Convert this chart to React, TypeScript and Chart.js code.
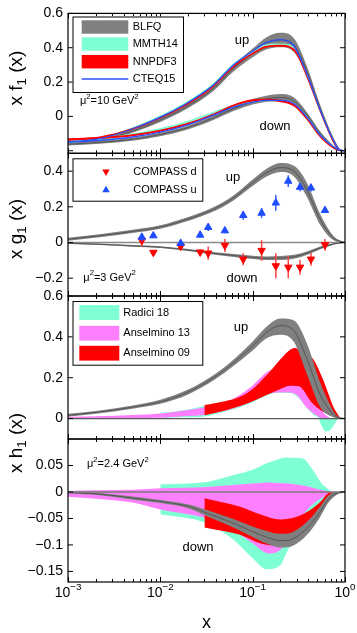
import { useEffect, useRef } from 'react';
import { Chart, registerables } from 'chart.js';

Chart.register(...registerables);

const FONT = '"Liberation Sans", Arial, Helvetica, sans-serif';
const CW = 357;
const CH = 633;
const PLOT_LEFT = 68;
const PLOT_RIGHT = 345;

const GRAY = '#808080';
const GRAY_MID = '#4a4a4a';
const CYAN = '#7fffd4';
const MAGENTA = '#ff80ff';
const RED = '#ff0000';
const BLUE = '#2b4cff';
const MARK_BLUE = '#1f4dff';
const ERR_RED = '#ff4040';
const ERR_BLUE = '#3a5bff';

// ---------------- x axis ----------------
const X_MIN = 0.001;
const X_MAX = 1;
const X_TICKS = [0.001, 0.01, 0.1, 1];
const X_TICK_EXP = ['\u22123', '\u22122', '\u22121', '0'];

// ---------------- panel 1 : x f1(x), mu^2 = 10 GeV^2 ----------------
const Y1_TICKS = [-0.2, 0, 0.2, 0.4, 0.6];
const Y1_LABELS = ['', '0', '0.2', '0.4', '0.6'];
const F1_X = [0.001, 0.0022, 0.005, 0.01, 0.019, 0.037, 0.062, 0.1, 0.14, 0.2, 0.28, 0.385, 0.54, 0.75, 0.88, 1];
const F1_UP_CTEQ = [-0.15, -0.13, -0.072, -0.004, 0.074, 0.18, 0.3, 0.38, 0.43, 0.447, 0.41, 0.25, 0.035, -0.14, -0.198, -0.2];
const F1_UP_BLFQ_MID = [-0.16, -0.14, -0.085, -0.02, 0.055, 0.16, 0.28, 0.37, 0.425, 0.445, 0.415, 0.265, 0.045, -0.135, -0.193, -0.2];
const F1_UP_BLFQ_LO = [-0.168, -0.148, -0.095, -0.032, 0.042, 0.145, 0.262, 0.345, 0.39, 0.403, 0.375, 0.235, 0.025, -0.145, -0.197, -0.2];
const F1_UP_BLFQ_HI = [-0.152, -0.132, -0.075, -0.008, 0.068, 0.175, 0.298, 0.395, 0.46, 0.487, 0.455, 0.295, 0.065, -0.125, -0.189, -0.2];
const F1_UP_MMTH_LO = [-0.157, -0.135, -0.075, -0.006, 0.072, 0.178, 0.295, 0.365, 0.405, 0.41, 0.39, 0.235, 0.025, -0.148, -0.2, -0.2];
const F1_UP_MMTH_HI = [-0.145, -0.123, -0.063, 0.006, 0.085, 0.192, 0.31, 0.38, 0.42, 0.425, 0.405, 0.25, 0.04, -0.136, -0.194, -0.2];
const F1_UP_NNPDF_LO = [-0.142, -0.128, -0.078, -0.012, 0.064, 0.168, 0.285, 0.36, 0.4, 0.405, 0.38, 0.225, 0.02, -0.155, -0.203, -0.2];
const F1_UP_NNPDF_HI = [-0.13, -0.117, -0.068, -0.002, 0.074, 0.178, 0.296, 0.372, 0.412, 0.418, 0.395, 0.24, 0.033, -0.143, -0.196, -0.2];
const F1_DN_CTEQ = [-0.15, -0.14, -0.12, -0.091, -0.052, 0.006, 0.054, 0.083, 0.093, 0.093, 0.074, -0.004, -0.11, -0.178, -0.197, -0.2];
const F1_DN_BLFQ_MID = [-0.162, -0.152, -0.133, -0.105, -0.068, -0.01, 0.045, 0.085, 0.102, 0.11, 0.09, 0.01, -0.1, -0.175, -0.196, -0.2];
const F1_DN_BLFQ_LO = [-0.17, -0.16, -0.142, -0.115, -0.079, -0.022, 0.031, 0.069, 0.084, 0.09, 0.07, -0.006, -0.112, -0.181, -0.199, -0.2];
const F1_DN_BLFQ_HI = [-0.154, -0.144, -0.124, -0.095, -0.057, 0.002, 0.059, 0.101, 0.12, 0.13, 0.11, 0.026, -0.088, -0.169, -0.193, -0.2];
const F1_DN_MMTH_LO = [-0.152, -0.138, -0.113, -0.082, -0.042, 0.012, 0.056, 0.08, 0.088, 0.086, 0.066, -0.01, -0.114, -0.181, -0.199, -0.2];
const F1_DN_MMTH_HI = [-0.142, -0.126, -0.1, -0.068, -0.028, 0.026, 0.068, 0.09, 0.098, 0.096, 0.078, 0.002, -0.104, -0.173, -0.195, -0.2];
const F1_DN_NNPDF_LO = [-0.14, -0.132, -0.116, -0.09, -0.052, 0.004, 0.058, 0.087, 0.09, 0.083, 0.058, -0.02, -0.125, -0.188, -0.202, -0.2];
const F1_DN_NNPDF_HI = [-0.128, -0.12, -0.104, -0.078, -0.04, 0.016, 0.07, 0.1, 0.103, 0.097, 0.072, -0.006, -0.113, -0.18, -0.197, -0.2];

// ---------------- panel 2 : x g1(x), mu^2 = 3 GeV^2 ----------------
const Y2_TICKS = [-0.2, 0, 0.2, 0.4];
const Y2_LABELS = ['\u22120.2', '0', '0.2', '0.4'];
const G1_X = [0.001, 0.0022, 0.005, 0.01, 0.019, 0.037, 0.062, 0.1, 0.14, 0.2, 0.28, 0.385, 0.54, 0.75, 1];
const G1_UP_MID = [0.018, 0.038, 0.062, 0.087, 0.128, 0.184, 0.25, 0.335, 0.39, 0.42, 0.4, 0.297, 0.128, 0.025, 0];
const G1_UP_LO = [0.01, 0.03, 0.053, 0.077, 0.117, 0.172, 0.236, 0.317, 0.368, 0.395, 0.37, 0.257, 0.098, 0.013, 0];
const G1_UP_HI = [0.026, 0.046, 0.071, 0.097, 0.139, 0.196, 0.264, 0.353, 0.412, 0.445, 0.43, 0.337, 0.158, 0.037, 0];
const G1_DN_MID = [-0.004, -0.01, -0.019, -0.026, -0.041, -0.06, -0.073, -0.083, -0.088, -0.087, -0.08, -0.06, -0.03, -0.008, 0];
const G1_DN_LO = [-0.008, -0.014, -0.024, -0.031, -0.047, -0.067, -0.081, -0.092, -0.098, -0.098, -0.091, -0.07, -0.038, -0.012, 0];
const G1_DN_HI = [0.0, -0.006, -0.014, -0.021, -0.035, -0.053, -0.065, -0.074, -0.078, -0.076, -0.069, -0.05, -0.022, -0.004, 0];
const COMPASS_X = [0.0063, 0.0084, 0.0166, 0.027, 0.033, 0.05, 0.079, 0.125, 0.178, 0.243, 0.326, 0.428, 0.607];
const COMPASS_U = [0.03, 0.038, -0.004, 0.042, 0.085, 0.066, 0.152, 0.165, 0.222, 0.344, 0.31, 0.306, 0.18];
const COMPASS_U_ERR = [0.022, 0.012, 0.012, 0.014, 0.02, 0.014, 0.024, 0.028, 0.044, 0.033, 0.023, 0.02, 0.014];
const COMPASS_D = [0.011, -0.056, -0.022, -0.054, -0.06, -0.017, -0.094, -0.045, -0.131, -0.139, -0.139, -0.094, -0.013];
const COMPASS_D_ERR = [0.034, 0.012, 0.012, 0.014, 0.037, 0.037, 0.033, 0.057, 0.07, 0.061, 0.042, 0.037, 0.033];

// ---------------- panel 3 : x h1(x) up ----------------
const Y3_TICKS = [0, 0.2, 0.4, 0.6];
const Y3_LABELS = ['0', '0.2', '0.4', '0.6'];
const H1U_X = [0.001, 0.002, 0.005, 0.01, 0.02, 0.04, 0.06, 0.1, 0.14, 0.2, 0.28, 0.385, 0.54, 0.7, 0.8, 1];
const H1_UP_MID = [0.016, 0.03, 0.056, 0.082, 0.13, 0.208, 0.268, 0.355, 0.42, 0.455, 0.43, 0.295, 0.115, 0.035, 0.01, 0];
const H1_UP_LO = [0.009, 0.023, 0.048, 0.072, 0.118, 0.195, 0.253, 0.333, 0.392, 0.41, 0.375, 0.22, 0.056, 0.012, 0.003, 0];
const H1_UP_HI = [0.023, 0.037, 0.064, 0.092, 0.142, 0.221, 0.283, 0.377, 0.448, 0.49, 0.48, 0.37, 0.175, 0.06, 0.018, 0];
const R18U_X = [0.01, 0.02, 0.03, 0.05, 0.073, 0.1, 0.15, 0.2, 0.25, 0.3, 0.38, 0.45, 0.52, 0.55, 0.62, 0.68, 0.75, 0.85, 1];
const R18_UP_HI = [0.028, 0.045, 0.062, 0.075, 0.09, 0.11, 0.135, 0.138, 0.135, 0.125, 0.08, 0.04, 0.015, 0.008, 0.003, 0.002, 0.001, 0, 0];
const R18_UP_LO = [0.003, 0.006, 0.01, 0.035, 0.056, 0.08, 0.118, 0.126, 0.125, 0.11, 0.055, 0.02, 0.0, -0.03, -0.063, -0.06, -0.035, -0.002, 0];
const A13U_X = [0.001, 0.002, 0.005, 0.01, 0.02, 0.03, 0.05, 0.07, 0.1, 0.14, 0.175, 0.2, 0.23, 0.3, 0.38, 0.49, 0.58, 0.7];
const A13_UP_HI = [0.008, 0.011, 0.017, 0.025, 0.042, 0.056, 0.078, 0.112, 0.162, 0.225, 0.248, 0.255, 0.255, 0.22, 0.16, 0.08, 0.03, 0.0];
const A13_UP_LO = [0.0, 0.001, 0.002, 0.004, 0.012, 0.018, 0.038, 0.058, 0.085, 0.118, 0.126, 0.128, 0.128, 0.115, 0.057, 0.016, 0.0, 0.0];
const A09U_X = [0.03, 0.05, 0.073, 0.1, 0.13, 0.154, 0.2, 0.254, 0.29, 0.325, 0.353, 0.417, 0.454, 0.58, 0.75, 0.81, 0.9];
const A09_UP_HI = [0.066, 0.085, 0.107, 0.145, 0.195, 0.23, 0.29, 0.337, 0.345, 0.335, 0.325, 0.305, 0.29, 0.19, 0.057, 0.03, 0.0];
const A09_UP_LO = [0.016, 0.04, 0.061, 0.085, 0.108, 0.123, 0.145, 0.161, 0.16, 0.156, 0.14, 0.09, 0.07, 0.033, 0.008, 0.005, 0.0];

// ---------------- panel 4 : x h1(x) down, mu^2 = 2.4 GeV^2 ----------------
const Y4_TICKS = [-0.15, -0.1, -0.05, 0, 0.05];
const Y4_LABELS = ['\u22120.15', '\u22120.1', '\u22120.05', '0', '0.05'];
const H1D_X = [0.001, 0.0022, 0.0053, 0.01, 0.021, 0.032, 0.062, 0.1, 0.142, 0.197, 0.25, 0.32, 0.42, 0.54, 0.65, 0.8, 1];
const H1_DN_MID = [-0.001, -0.004, -0.012, -0.018, -0.028, -0.04, -0.059, -0.075, -0.0855, -0.092, -0.091, -0.081, -0.062, -0.037, -0.015, -0.003, 0];
const H1_DN_LO = [-0.003, -0.006, -0.015, -0.021, -0.032, -0.046, -0.067, -0.085, -0.0975, -0.105, -0.104, -0.094, -0.074, -0.047, -0.022, -0.006, 0];
const H1_DN_HI = [0.001, -0.002, -0.009, -0.015, -0.024, -0.034, -0.051, -0.065, -0.0735, -0.079, -0.078, -0.068, -0.05, -0.027, -0.008, 0.0, 0];
const R18D_X = [0.01, 0.032, 0.062, 0.1, 0.142, 0.2, 0.23, 0.3, 0.35, 0.45, 0.56, 0.63, 0.72, 0.84];
const R18_DN_HI = [0.0145, 0.019, 0.032, 0.042, 0.054, 0.063, 0.065, 0.064, 0.063, 0.041, 0.016, 0.008, 0.001, 0];
const R18_DN_LO = [-0.042, -0.059, -0.09, -0.125, -0.146, -0.138, -0.116, -0.084, -0.066, -0.04, -0.02, -0.013, -0.005, 0];
const A13D_X = [0.001, 0.002, 0.005, 0.01, 0.032, 0.062, 0.1, 0.148, 0.197, 0.25, 0.32, 0.42, 0.54, 0.7, 0.85];
const A13_DN_HI = [0.002, 0.003, 0.004, 0.007, 0.0095, 0.013, 0.016, 0.018, 0.017, 0.016, 0.013, 0.0095, 0.004, 0.001, 0];
const A13_DN_LO = [-0.009, -0.013, -0.02, -0.033, -0.05, -0.072, -0.097, -0.116, -0.11, -0.084, -0.053, -0.028, -0.013, -0.003, 0];
const A09D_X = [0.03, 0.073, 0.12, 0.2, 0.3, 0.42, 0.54, 0.65, 0.76];
const A09_DN_HI = [-0.012, -0.028, -0.042, -0.052, -0.047, -0.034, -0.019, -0.003, 0];
const A09_DN_LO = [-0.067, -0.081, -0.097, -0.102, -0.088, -0.064, -0.037, -0.015, 0];

// ---------------- helpers ----------------
type Seg = { t: string; s?: 'sup' | 'sub' };

const pts = (xs: number[], ys: number[]) => xs.map((x, i) => ({ x, y: ys[i] }));

function band(xs: number[], lo: number[], hi: number[], color: string, label: string): any[] {
  const common = { pointRadius: 0, borderWidth: 0, borderColor: 'rgba(0,0,0,0)', cubicInterpolationMode: 'monotone' };
  return [
    { ...common, label: label + ' lower', data: pts(xs, lo), fill: false },
    { ...common, label, data: pts(xs, hi), fill: '-1', backgroundColor: color },
  ];
}

function curve(xs: number[], ys: number[], color: string, width: number, label: string): any {
  return {
    label, data: pts(xs, ys), borderColor: color, borderWidth: width, pointRadius: 0,
    fill: false, cubicInterpolationMode: 'monotone',
  };
}

function markers(xs: number[], ys: number[], errs: number[], color: string, errColor: string, rot: number, label: string): any {
  return {
    label, data: pts(xs, ys), showLine: false, pointStyle: 'triangle', rotation: rot,
    pointRadius: 4.3, pointBackgroundColor: color, pointBorderColor: color, pointBorderWidth: 1,
    errors: errs, errColor,
  };
}

function drawRich(ctx: CanvasRenderingContext2D, segs: Seg[], x: number, y: number, size: number, align: 'left' | 'center' = 'left') {
  let total = 0;
  for (const sg of segs) {
    ctx.font = `${sg.s ? size * 0.7 : size}px ${FONT}`;
    total += ctx.measureText(sg.t).width;
  }
  let cx = align === 'center' ? x - total / 2 : x;
  ctx.textAlign = 'left';
  ctx.textBaseline = 'middle';
  ctx.fillStyle = '#000';
  for (const sg of segs) {
    const fs = sg.s ? size * 0.7 : size;
    ctx.font = `${fs}px ${FONT}`;
    const dy = sg.s === 'sup' ? -size * 0.4 : sg.s === 'sub' ? size * 0.3 : 0;
    ctx.fillText(sg.t, cx, y + dy);
    cx += ctx.measureText(sg.t).width;
  }
}

function drawRotated(ctx: CanvasRenderingContext2D, segs: Seg[], x: number, y: number, size: number) {
  ctx.save();
  ctx.translate(x, y);
  ctx.rotate(-Math.PI / 2);
  drawRich(ctx, segs, 0, 0, size, 'center');
  ctx.restore();
}

function legendBox(ctx: CanvasRenderingContext2D, l: number, t: number, r: number, b: number) {
  ctx.fillStyle = '#fff';
  ctx.fillRect(l, t, r - l, b - t);
  ctx.strokeStyle = '#000';
  ctx.lineWidth = 1;
  ctx.strokeRect(l + 0.5, t + 0.5, r - l - 1, b - t - 1);
}

function legendText(ctx: CanvasRenderingContext2D, s: string, x: number, y: number) {
  ctx.font = `11px ${FONT}`;
  ctx.fillStyle = '#000';
  ctx.textAlign = 'left';
  ctx.textBaseline = 'middle';
  ctx.fillText(s, x, y);
}

function triangle(ctx: CanvasRenderingContext2D, x: number, y: number, r: number, down: boolean, color: string) {
  const d = down ? -1 : 1;
  ctx.beginPath();
  ctx.moveTo(x, y - d * r);
  ctx.lineTo(x + r * 0.866, y + d * r * 0.5);
  ctx.lineTo(x - r * 0.866, y + d * r * 0.5);
  ctx.closePath();
  ctx.fillStyle = color;
  ctx.fill();
}

function drawFrame(chart: any, yTicks: number[]) {
  const { ctx, chartArea: a, scales } = chart;
  const xs = scales.x;
  const ys = scales.y;
  ctx.save();
  ctx.strokeStyle = '#000';
  ctx.lineWidth = 1;
  ctx.beginPath();
  for (let d = -3; d <= 0; d++) {
    for (let k = 1; k <= 9; k++) {
      const v = k * Math.pow(10, d);
      if (v > X_MAX * 1.0001) break;
      const px = Math.round(xs.getPixelForValue(v)) + 0.5;
      const len = k === 1 ? 5 : 3;
      ctx.moveTo(px, a.top);
      ctx.lineTo(px, a.top + len);
      ctx.moveTo(px, a.bottom);
      ctx.lineTo(px, a.bottom - len);
    }
  }
  for (const t of yTicks) {
    const py = ys.getPixelForValue(t);
    ctx.moveTo(a.left, py);
    ctx.lineTo(a.left + 5, py);
    ctx.moveTo(a.right, py);
    ctx.lineTo(a.right - 5, py);
  }
  ctx.stroke();
  ctx.lineWidth = 1.2;
  ctx.strokeRect(a.left, a.top, a.right - a.left, a.bottom - a.top);
  ctx.restore();
}

function zeroLine(chart: any, color: string, width: number) {
  const { ctx, chartArea: a, scales } = chart;
  const py = scales.y.getPixelForValue(0);
  ctx.save();
  ctx.strokeStyle = color;
  ctx.lineWidth = width;
  ctx.beginPath();
  ctx.moveTo(a.left, py);
  ctx.lineTo(a.right, py);
  ctx.stroke();
  ctx.restore();
}

type PanelSpec = {
  top: number; bottom: number; yMin: number; yMax: number;
  yTicks: number[]; yLabels: string[];
  datasets: any[];
  zero?: { when: 'before' | 'after'; color: string; width: number };
  decorate: (chart: any) => void;
};

const MU = (v: string): Seg[] => [{ t: '\u03bc' }, { t: '2', s: 'sup' }, { t: '=' + v + ' GeV' }, { t: '2', s: 'sup' }];

const PANELS: PanelSpec[] = [
  {
    top: 12.3, bottom: 153.3, yMin: -0.215, yMax: 0.6, yTicks: Y1_TICKS, yLabels: Y1_LABELS,
    datasets: [
      ...band(F1_X, F1_UP_BLFQ_LO, F1_UP_BLFQ_HI, GRAY, 'BLFQ up'),
      curve(F1_X, F1_UP_BLFQ_MID, GRAY_MID, 0.8, 'BLFQ up mid'),
      ...band(F1_X, F1_DN_BLFQ_LO, F1_DN_BLFQ_HI, GRAY, 'BLFQ down'),
      curve(F1_X, F1_DN_BLFQ_MID, GRAY_MID, 0.8, 'BLFQ down mid'),
      ...band(F1_X, F1_UP_MMTH_LO, F1_UP_MMTH_HI, CYAN, 'MMTH14 up'),
      ...band(F1_X, F1_DN_MMTH_LO, F1_DN_MMTH_HI, CYAN, 'MMTH14 down'),
      ...band(F1_X, F1_UP_NNPDF_LO, F1_UP_NNPDF_HI, RED, 'NNPDF3 up'),
      ...band(F1_X, F1_DN_NNPDF_LO, F1_DN_NNPDF_HI, RED, 'NNPDF3 down'),
      curve(F1_X, F1_UP_CTEQ, BLUE, 1.3, 'CTEQ15 up'),
      curve(F1_X, F1_DN_CTEQ, BLUE, 1.3, 'CTEQ15 down'),
    ],
    decorate: (chart) => {
      const ctx = chart.ctx;
      legendBox(ctx, 72.5, 16.5, 184, 93);
      const rows = [27, 44, 61.7, 79];
      const cols = [GRAY, CYAN, RED];
      for (let i = 0; i < 3; i++) {
        ctx.fillStyle = cols[i];
        ctx.fillRect(81.7, rows[i] - 6.7, 46.6, 13.4);
      }
      ctx.strokeStyle = BLUE;
      ctx.lineWidth = 1.3;
      ctx.beginPath();
      ctx.moveTo(81.7, rows[3]);
      ctx.lineTo(128.3, rows[3]);
      ctx.stroke();
      ['BLFQ', 'MMTH14', 'NNPDF3', 'CTEQ15'].forEach((s, i) => legendText(ctx, s, 132.7, rows[i]));
      drawRich(ctx, MU('10'), 80, 101, 11);
      drawRich(ctx, [{ t: 'up' }], 242, 40, 13, 'center');
      drawRich(ctx, [{ t: 'down' }], 275, 126, 13, 'center');
      drawRotated(ctx, [{ t: 'x f' }, { t: '1', s: 'sub' }, { t: ' (x)' }], 17, 78, 19);
    },
  },
  {
    top: 153.3, bottom: 296, yMin: -0.3, yMax: 0.5, yTicks: Y2_TICKS, yLabels: Y2_LABELS,
    zero: { when: 'before', color: '#8a8a8a', width: 1.5 },
    datasets: [
      ...band(G1_X, G1_UP_LO, G1_UP_HI, GRAY, 'BLFQ g1 up'),
      curve(G1_X, G1_UP_MID, GRAY_MID, 0.8, 'BLFQ g1 up mid'),
      ...band(G1_X, G1_DN_LO, G1_DN_HI, GRAY, 'BLFQ g1 down'),
      curve(G1_X, G1_DN_MID, GRAY_MID, 0.8, 'BLFQ g1 down mid'),
      markers(COMPASS_X, COMPASS_D, COMPASS_D_ERR, RED, ERR_RED, 180, 'COMPASS d'),
      markers(COMPASS_X, COMPASS_U, COMPASS_U_ERR, MARK_BLUE, ERR_BLUE, 0, 'COMPASS u'),
    ],
    decorate: (chart) => {
      const ctx = chart.ctx;
      legendBox(ctx, 72.5, 158.3, 203.3, 201.7);
      triangle(ctx, 106, 171.7, 4.3, true, RED);
      triangle(ctx, 106, 190, 4.3, false, MARK_BLUE);
      legendText(ctx, 'COMPASS d', 133.3, 171.7);
      legendText(ctx, 'COMPASS u', 133.3, 190);
      drawRich(ctx, MU('3'), 83.3, 277.5, 11);
      drawRich(ctx, [{ t: 'up' }], 233, 177, 13, 'center');
      drawRich(ctx, [{ t: 'down' }], 242, 278.5, 13, 'center');
      drawRotated(ctx, [{ t: 'x g' }, { t: '1', s: 'sub' }, { t: ' (x)' }], 17, 229, 19);
    },
  },
  {
    top: 296, bottom: 439, yMin: -0.1, yMax: 0.6, yTicks: Y3_TICKS, yLabels: Y3_LABELS,
    zero: { when: 'after', color: '#5a5a5a', width: 1.2 },
    datasets: [
      ...band(R18U_X, R18_UP_LO, R18_UP_HI, CYAN, 'Radici 18 up'),
      ...band(A13U_X, A13_UP_LO, A13_UP_HI, MAGENTA, 'Anselmino 13 up'),
      ...band(A09U_X, A09_UP_LO, A09_UP_HI, RED, 'Anselmino 09 up'),
      ...band(H1U_X, H1_UP_LO, H1_UP_HI, GRAY, 'BLFQ h1 up'),
      curve(H1U_X, H1_UP_MID, GRAY_MID, 0.8, 'BLFQ h1 up mid'),
    ],
    decorate: (chart) => {
      const ctx = chart.ctx;
      legendBox(ctx, 72.5, 301, 203.3, 365.7);
      const rows = [312.5, 333.2, 353.2];
      const cols = [CYAN, MAGENTA, RED];
      for (let i = 0; i < 3; i++) {
        ctx.fillStyle = cols[i];
        ctx.fillRect(79.3, rows[i] - 7.4, 40, 14.8);
      }
      ['Radici 18', 'Anselmino 13', 'Anselmino 09'].forEach((s, i) => legendText(ctx, s, 123.3, rows[i]));
      drawRich(ctx, [{ t: 'up' }], 241, 327.5, 13, 'center');
    },
  },
  {
    top: 439, bottom: 582, yMin: -0.17, yMax: 0.1, yTicks: Y4_TICKS, yLabels: Y4_LABELS,
    zero: { when: 'after', color: '#7a7a7a', width: 1.5 },
    datasets: [
      ...band(R18D_X, R18_DN_LO, R18_DN_HI, CYAN, 'Radici 18 down'),
      ...band(A13D_X, A13_DN_LO, A13_DN_HI, MAGENTA, 'Anselmino 13 down'),
      ...band(A09D_X, A09_DN_LO, A09_DN_HI, RED, 'Anselmino 09 down'),
      ...band(H1D_X, H1_DN_LO, H1_DN_HI, GRAY, 'BLFQ h1 down'),
      curve(H1D_X, H1_DN_MID, GRAY_MID, 0.8, 'BLFQ h1 down mid'),
    ],
    decorate: (chart) => {
      const ctx = chart.ctx;
      drawRich(ctx, MU('2.4'), 87, 464, 11);
      drawRich(ctx, [{ t: 'down' }], 198, 547.5, 13, 'center');
      drawRotated(ctx, [{ t: 'x h' }, { t: '1', s: 'sub' }, { t: ' (x)' }], 17, 443, 19);
      const xs = chart.scales.x;
      X_TICKS.forEach((v, i) => {
        drawRich(ctx, [{ t: '10' }, { t: X_TICK_EXP[i], s: 'sup' }], xs.getPixelForValue(v), 593, 14, 'center');
      });
      drawRich(ctx, [{ t: 'x' }], (PLOT_LEFT + PLOT_RIGHT) / 2, 623, 18, 'center');
    },
  },
];

function buildConfig(p: PanelSpec): any {
  const datasets = p.datasets.map((d, i, arr) => ({ ...d, order: arr.length - i }));
  const decor = {
    id: 'panelDecor',
    beforeDatasetsDraw(chart: any) {
      if (p.zero && p.zero.when === 'before') zeroLine(chart, p.zero.color, p.zero.width);
    },
    beforeDatasetDraw(chart: any, args: any) {
      const ds = chart.data.datasets[args.index];
      if (!ds.errors) return;
      const { ctx } = chart;
      const xs = chart.scales.x;
      const ys = chart.scales.y;
      ctx.save();
      ctx.strokeStyle = ds.errColor;
      ctx.lineWidth = 1.5;
      ctx.beginPath();
      ds.data.forEach((pt: any, i: number) => {
        const px = xs.getPixelForValue(pt.x);
        ctx.moveTo(px, ys.getPixelForValue(pt.y - ds.errors[i]));
        ctx.lineTo(px, ys.getPixelForValue(pt.y + ds.errors[i]));
      });
      ctx.stroke();
      ctx.restore();
    },
    afterDatasetsDraw(chart: any) {
      if (p.zero && p.zero.when === 'after') zeroLine(chart, p.zero.color, p.zero.width);
    },
    afterDraw(chart: any) {
      drawFrame(chart, p.yTicks);
      p.decorate(chart);
    },
  };
  return {
    type: 'line',
    data: { datasets },
    options: {
      animation: false,
      responsive: false,
      devicePixelRatio: 1,
      events: [],
      layout: { padding: { left: 0, right: CW - PLOT_RIGHT, top: p.top, bottom: CH - p.bottom } },
      plugins: { legend: { display: false }, tooltip: { enabled: false } },
      scales: {
        x: { type: 'logarithmic', min: X_MIN, max: X_MAX, display: false },
        y: {
          type: 'linear', min: p.yMin, max: p.yMax,
          afterFit: (s: any) => { s.width = PLOT_LEFT; },
          afterBuildTicks: (s: any) => { s.ticks = p.yTicks.map((v) => ({ value: v })); },
          grid: { display: false, drawTicks: false },
          border: { display: false },
          ticks: {
            padding: 5, color: '#000', font: { size: 14, family: FONT },
            callback: (_v: any, i: number) => p.yLabels[i],
          },
        },
      },
    },
    plugins: [decor],
  };
}

function Panel({ spec }: { spec: PanelSpec }) {
  const ref = useRef<HTMLCanvasElement>(null);
  useEffect(() => {
    const chart = new Chart(ref.current as HTMLCanvasElement, buildConfig(spec));
    return () => chart.destroy();
  }, [spec]);
  return (
    <canvas
      ref={ref}
      width={CW}
      height={CH}
      style={{ position: 'absolute', left: 0, top: 0, width: CW, height: CH }}
    />
  );
}

export default function App() {
  return (
    <div style={{ position: 'absolute', left: 0, top: 0, width: CW, height: CH, background: '#fff', overflow: 'hidden' }}>
      {PANELS.map((p, i) => (
        <Panel key={i} spec={p} />
      ))}
    </div>
  );
}
